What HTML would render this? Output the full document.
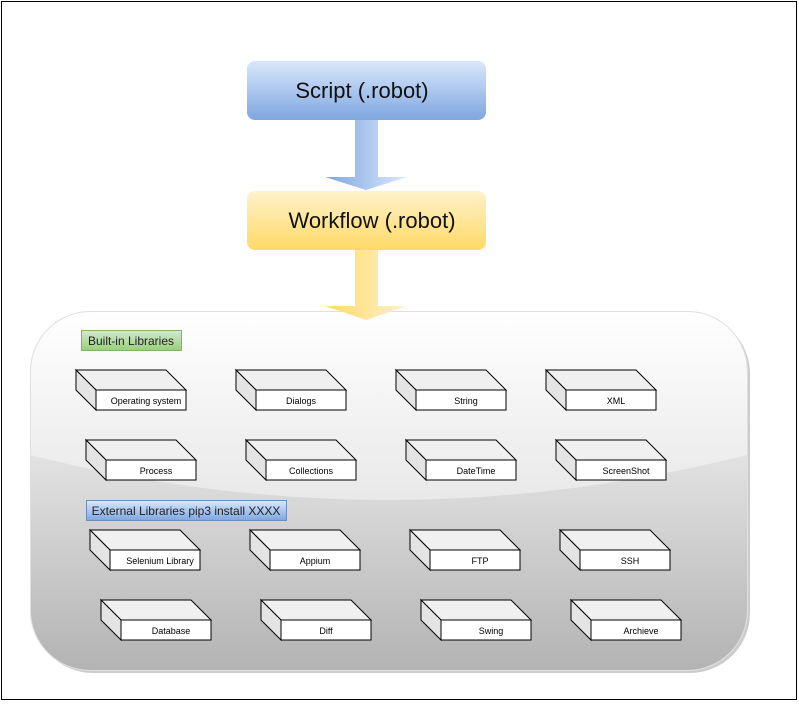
<!DOCTYPE html>
<html><head><meta charset="utf-8"><style>
html,body{margin:0;padding:0;background:#fff;}
svg{display:block;font-family:"Liberation Sans",Arial,sans-serif;}
</style></head><body>
<svg width="799" height="704" viewBox="0 0 799 704" xmlns="http://www.w3.org/2000/svg">
<defs>
<linearGradient id="gb" x1="0" y1="0" x2="0" y2="1"><stop offset="0" stop-color="#dae8fc"/><stop offset="1" stop-color="#7ea6e0"/></linearGradient>
<linearGradient id="gy" x1="0" y1="0" x2="0" y2="1"><stop offset="0" stop-color="#fff2cc"/><stop offset="1" stop-color="#ffd966"/></linearGradient>
<linearGradient id="ab" x1="0" y1="0" x2="1" y2="0"><stop offset="0" stop-color="#7ea6e0"/><stop offset="1" stop-color="#dae8fc"/></linearGradient>
<linearGradient id="ay" x1="0" y1="0" x2="1" y2="0"><stop offset="0" stop-color="#ffd966"/><stop offset="1" stop-color="#fff2cc"/></linearGradient>
<linearGradient id="gup" gradientUnits="userSpaceOnUse" x1="0" y1="311" x2="0" y2="505"><stop offset="0" stop-color="#ffffff"/><stop offset="1" stop-color="#e8e8e8"/></linearGradient>
<linearGradient id="glo" gradientUnits="userSpaceOnUse" x1="0" y1="455" x2="0" y2="670"><stop offset="0" stop-color="#e2e2e2"/><stop offset="1" stop-color="#b3b3b3"/></linearGradient>
<linearGradient id="gg" x1="0" y1="0" x2="0" y2="1"><stop offset="0" stop-color="#d5e8d4"/><stop offset="1" stop-color="#97d077"/></linearGradient>
<linearGradient id="gbl" x1="0" y1="0" x2="0" y2="1"><stop offset="0" stop-color="#dae8fc"/><stop offset="1" stop-color="#7ea6e0"/></linearGradient>
<clipPath id="cc"><rect x="30" y="311" width="717" height="359" rx="60"/></clipPath>
</defs>
<rect x="1.5" y="1.5" width="795" height="698" fill="#fff" stroke="#000" stroke-width="1"/>
<rect x="247" y="61" width="239" height="59" rx="8" fill="url(#gb)"/>
<text x="362" y="98" font-size="22" text-anchor="middle" fill="#111">Script (.robot)</text>
<polygon points="355,120 378,120 378,177 407,177 366,190 325,177 355,177" fill="url(#ab)"/>
<rect x="247" y="191" width="239" height="59" rx="8" fill="url(#gy)"/>
<text x="372" y="228" font-size="22" text-anchor="middle" fill="#111">Workflow (.robot)</text>
<rect x="33" y="314" width="717" height="359" rx="60" fill="#999" opacity="0.5"/>
<g clip-path="url(#cc)">
<rect x="30" y="311" width="717" height="359" fill="url(#glo)"/>
<path d="M30,311 H747 V455 Q388,545 30,455 Z" fill="url(#gup)"/>
</g>
<rect x="30.5" y="311.5" width="717" height="359" rx="60" fill="none" stroke="#e0e0e0"/>
<polygon points="355,250 378,250 378,306 407,306 366,320 325,306 355,306" fill="url(#ay)"/>
<rect x="81.5" y="330.5" width="100" height="20" fill="url(#gg)" stroke="#82b366"/>
<text x="131" y="345" font-size="12" text-anchor="middle" fill="#222">Built-in Libraries</text>
<rect x="86.5" y="500.5" width="200" height="20" fill="url(#gbl)" stroke="#6c8ebf"/>
<text x="186" y="515" font-size="12" text-anchor="middle" fill="#222">External Libraries pip3 install XXXX</text>
<g font-size="9" text-anchor="middle">
<g stroke="#000"><polygon points="76,370 166,370 186,390 96,390" fill="#f0f0f0"/><polygon points="76,370 96,390 96,410 76,390" fill="#e4e4e4"/><rect x="96" y="390" width="90" height="20" fill="#fff"/></g><text x="146" y="404">Operating system</text>
<g stroke="#000"><polygon points="236,370 326,370 346,390 256,390" fill="#f0f0f0"/><polygon points="236,370 256,390 256,410 236,390" fill="#e4e4e4"/><rect x="256" y="390" width="90" height="20" fill="#fff"/></g><text x="301" y="404">Dialogs</text>
<g stroke="#000"><polygon points="396,370 486,370 506,390 416,390" fill="#f0f0f0"/><polygon points="396,370 416,390 416,410 396,390" fill="#e4e4e4"/><rect x="416" y="390" width="90" height="20" fill="#fff"/></g><text x="466" y="404">String</text>
<g stroke="#000"><polygon points="546,370 636,370 656,390 566,390" fill="#f0f0f0"/><polygon points="546,370 566,390 566,410 546,390" fill="#e4e4e4"/><rect x="566" y="390" width="90" height="20" fill="#fff"/></g><text x="616" y="404">XML</text>
<g stroke="#000"><polygon points="86,440 176,440 196,460 106,460" fill="#f0f0f0"/><polygon points="86,440 106,460 106,480 86,460" fill="#e4e4e4"/><rect x="106" y="460" width="90" height="20" fill="#fff"/></g><text x="156" y="474">Process</text>
<g stroke="#000"><polygon points="246,440 336,440 356,460 266,460" fill="#f0f0f0"/><polygon points="246,440 266,460 266,480 246,460" fill="#e4e4e4"/><rect x="266" y="460" width="90" height="20" fill="#fff"/></g><text x="311" y="474">Collections</text>
<g stroke="#000"><polygon points="406,440 496,440 516,460 426,460" fill="#f0f0f0"/><polygon points="406,440 426,460 426,480 406,460" fill="#e4e4e4"/><rect x="426" y="460" width="90" height="20" fill="#fff"/></g><text x="476" y="474">DateTime</text>
<g stroke="#000"><polygon points="556,440 646,440 666,460 576,460" fill="#f0f0f0"/><polygon points="556,440 576,460 576,480 556,460" fill="#e4e4e4"/><rect x="576" y="460" width="90" height="20" fill="#fff"/></g><text x="626" y="474">ScreenShot</text>
<g stroke="#000"><polygon points="90,530 180,530 200,550 110,550" fill="#f0f0f0"/><polygon points="90,530 110,550 110,570 90,550" fill="#e4e4e4"/><rect x="110" y="550" width="90" height="20" fill="#fff"/></g><text x="160" y="564">Selenium Library</text>
<g stroke="#000"><polygon points="250,530 340,530 360,550 270,550" fill="#f0f0f0"/><polygon points="250,530 270,550 270,570 250,550" fill="#e4e4e4"/><rect x="270" y="550" width="90" height="20" fill="#fff"/></g><text x="315" y="564">Appium</text>
<g stroke="#000"><polygon points="410,530 500,530 520,550 430,550" fill="#f0f0f0"/><polygon points="410,530 430,550 430,570 410,550" fill="#e4e4e4"/><rect x="430" y="550" width="90" height="20" fill="#fff"/></g><text x="480" y="564">FTP</text>
<g stroke="#000"><polygon points="560,530 650,530 670,550 580,550" fill="#f0f0f0"/><polygon points="560,530 580,550 580,570 560,550" fill="#e4e4e4"/><rect x="580" y="550" width="90" height="20" fill="#fff"/></g><text x="630" y="564">SSH</text>
<g stroke="#000"><polygon points="101,600 191,600 211,620 121,620" fill="#f0f0f0"/><polygon points="101,600 121,620 121,640 101,620" fill="#e4e4e4"/><rect x="121" y="620" width="90" height="20" fill="#fff"/></g><text x="171" y="634">Database</text>
<g stroke="#000"><polygon points="261,600 351,600 371,620 281,620" fill="#f0f0f0"/><polygon points="261,600 281,620 281,640 261,620" fill="#e4e4e4"/><rect x="281" y="620" width="90" height="20" fill="#fff"/></g><text x="326" y="634">Diff</text>
<g stroke="#000"><polygon points="421,600 511,600 531,620 441,620" fill="#f0f0f0"/><polygon points="421,600 441,620 441,640 421,620" fill="#e4e4e4"/><rect x="441" y="620" width="90" height="20" fill="#fff"/></g><text x="491" y="634">Swing</text>
<g stroke="#000"><polygon points="571,600 661,600 681,620 591,620" fill="#f0f0f0"/><polygon points="571,600 591,620 591,640 571,620" fill="#e4e4e4"/><rect x="591" y="620" width="90" height="20" fill="#fff"/></g><text x="641" y="634">Archieve</text>
</g>
</svg>
</body></html>
